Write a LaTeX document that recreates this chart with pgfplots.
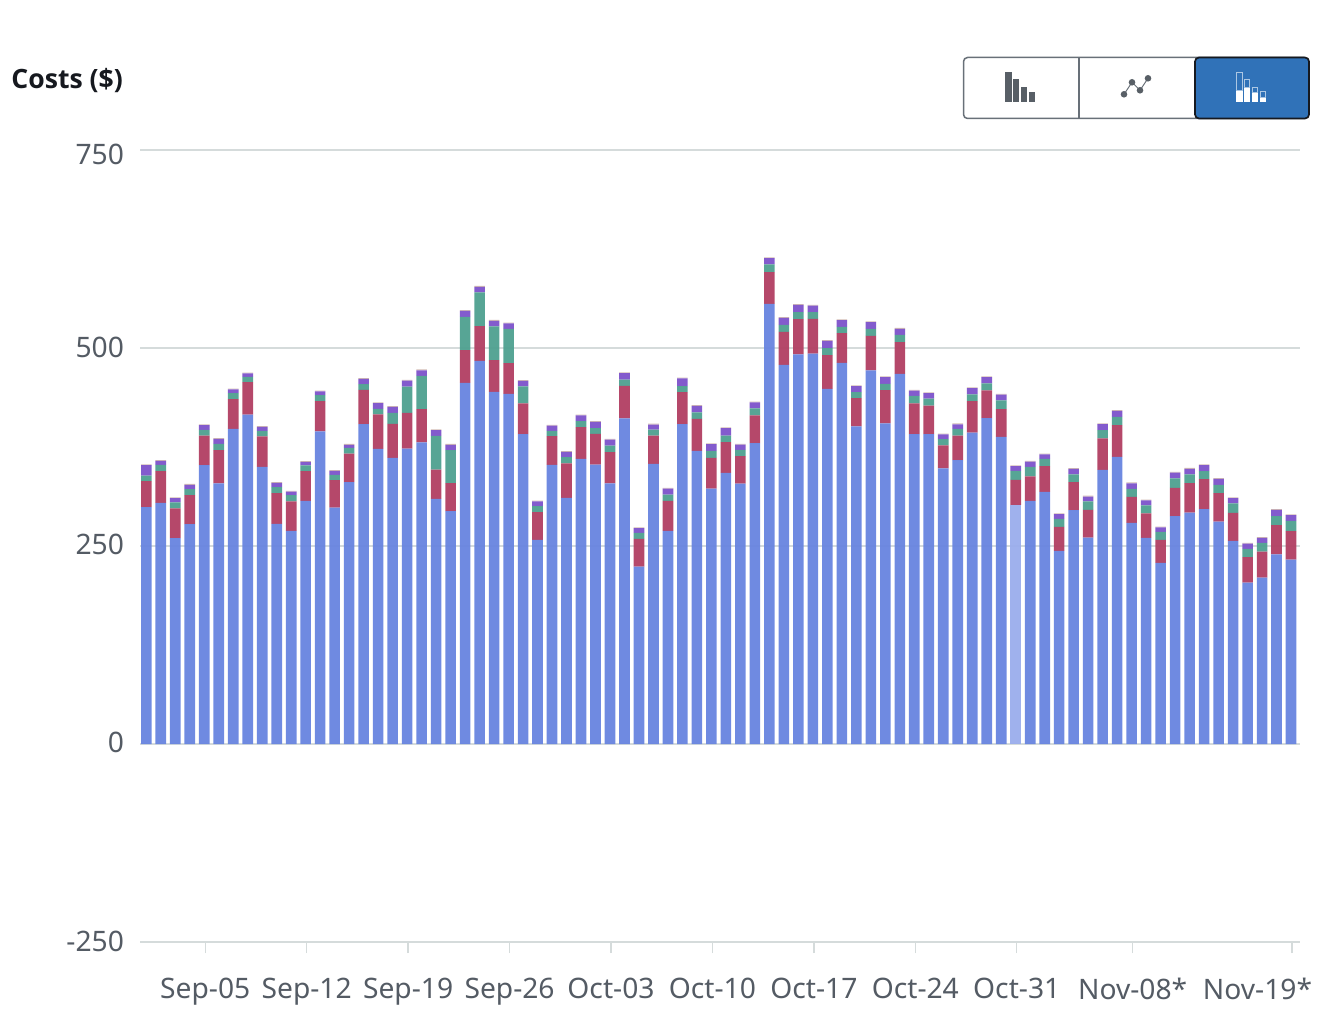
\documentclass[border=0pt]{standalone}
\usepackage{pgfplots}
\usepackage{pgfplotstable}
\pgfplotsset{compat=1.18}
\usepackage{fontspec}
\setmainfont{Noto Sans}
\newfontfamily\boldfont{Open Sans}[UprightFont=* Bold]
\definecolor{cblue}{HTML}{6985E0}
\definecolor{clight}{HTML}{9BAEEC}
\definecolor{cred}{HTML}{B24164}
\definecolor{cgreen}{HTML}{50A191}
\definecolor{cpurple}{HTML}{7E54CB}
\definecolor{ctan}{HTML}{D0B8B0}
\definecolor{cgrid}{HTML}{D5DBDB}
\definecolor{ctext}{HTML}{545B64}
\definecolor{cdark}{HTML}{16191F}
\definecolor{cbtn}{HTML}{3072B8}
\definecolor{cedge}{HTML}{687078}
\pgfplotstableread{
i b h r g p t
0 299 0 33 7 13 1
1 304.5 0 40 8 5 1
2 259.9 0 37.5 7.6 5.5 1
3 277.6 0 36.6 7.6 5.5 1
4 352 0 37.5 7.2 5.9 1
5 329 0 42 8 6.3 1
6 398 0 37.5 7.6 4.6 1
7 416 0 41 6.7 4.2 1
8 350 0 38.3 7.2 5 1
9 278 0 38.7 7.6 5.5 1
10 269 0 37.5 7.6 4.6 1
11 307 0 37.5 7.2 4.6 1
12 394.6 0 38.3 7.6 4.6 1
13 298.6 0 34.5 6.7 5 1
14 330.6 0 36.2 7.2 3.8 1
15 403.8 0 43.4 7.2 6.7 1
16 372.7 0 43.4 7.2 7.2 1
17 361.3 0 42.9 13.9 7.6 1
18 373 0 45 33.3 7.6 1
19 380.7 0 42 42 7.2 1
20 309.5 0 37 42.5 7.2 1
21 294 0 35.4 41.7 6.7 1
22 456 0 41.2 42 7.6 1
23 483.8 0 43.8 42.5 7.2 1
24 444.7 0 40 42.5 7.2 1
25 442 0 39 43 7.2 1
26 391.2 0 39 21.5 6.7 1
27 257.8 0 35 7.6 5.9 1
28 352.5 0 36.2 6.7 6.7 1
29 310.8 0 43.4 8 6.7 1
30 360 0 40 7.6 7.2 1
31 352.9 0 38.7 7.2 8 1
32 329 0 39.6 8 7.6 1
33 411 0 41.2 8 8 1
34 224 0 35 7.6 5.9 1
35 353.7 0 35.8 7.6 6.3 1
36 269 0 37.9 8 7.6 1
37 403.8 0 40.4 7.6 9.7 1
38 370 0 40.4 8.4 8 1
39 322.6 0 38.7 8.8 8.4 1
40 342.4 0 38.7 8.4 9.3 1
41 328.9 0 34.5 8 6.7 1
42 380 0 35 8.8 7.6 1
43 555.8 0 40 9.7 8 1
44 478.8 0 41.7 8.8 8.8 1
45 491.8 0 44.6 8.8 9.3 1
46 493 0 43.8 8.4 8.4 1
47 448.5 0 42.5 8.8 9.3 1
48 481.3 0 37.5 8 8.4 1
49 400.9 0 35.8 7.6 7.6 1
50 471.6 0 43.8 8.8 8.4 1
51 404.7 0 42 8 8.4 1
52 467.4 0 40 9.3 7.6 1
53 391.2 0 39 9.3 6.7 1
54 391.2 0 36.2 8.8 6.7 1
55 348 0 29 8 5.9 1
56 358.4 0 31 8.4 5.9 1
57 393.3 0 39.6 8.4 8 1
58 411.4 0 35 8.8 8 1
59 387.9 0 35 11 7.2 1
60 0 302 31.6 11.4 5.9 1
61 307 0 31 11.8 6.7 1
62 318.4 0 32.4 9.3 5.5 1
63 243.9 0 30.3 10 5.9 1
64 295.2 0 35.4 10 6.7 1
65 260.7 0 35 10.5 6.3 1
66 346.2 0 39.6 10.5 7.6 1
67 362.6 0 40 10.5 7.6 1
68 279.2 0 32.8 10 7.2 1
69 260.3 0 31 10 6.3 1
70 228.7 0 29 10 5.9 1
71 287.7 0 35.8 11.8 7.2 1
72 292.3 0 37 11 7.2 1
73 296.5 0 37.9 10 7.6 1
74 280.9 0 35.8 10.5 7.6 1
75 256.5 0 35.4 11.8 6.7 1
76 203.9 0 32 10.5 6.7 1
77 210.2 0 32.8 11 6.3 1
78 239.3 0 37 11.4 8 1
79 232.9 0 35.8 13 7.2 1
}\costdata
\begin{document}
\begin{tikzpicture}[x=1pt,y=1pt]
\useasboundingbox (0,0) rectangle (671,512);
\begin{axis}[
  at={(70pt,41pt)}, anchor=south west,
  scale only axis, width=580pt, height=396pt,
  xmin=-0.435, xmax=79.62, ymin=-250, ymax=750,
  ybar stacked, bar width=5.3pt,
  axis line style={draw=none},
  ymajorgrids, grid style={cgrid,line width=0.75pt},
  ytick={-250,0,250,500,750},
  yticklabels={\raisebox{-4.7pt}[0pt][0pt]{-250},\raisebox{-4.1pt}[0pt][0pt]{0},\raisebox{-4.4pt}[0pt][0pt]{250},\raisebox{-4.9pt}[0pt][0pt]{500},\raisebox{-7pt}[0pt][0pt]{750}},
  xtick={4.07,11.07,18.07,25.07,32.07,39.07,46.07,53.07,60.07,68.07,79.07},
  xticklabels={Sep-05,Sep-12,Sep-19,Sep-26,Oct-03,Oct-10,Oct-17,Oct-24,Oct-31,Nov-08*,{\makebox[0pt][r]{Nov-19*\hspace*{-10pt}}}},
  xtick pos=lower, ytick pos=left,
  major tick length=5.5pt,
  xtick align=outside,
  y tick style={draw=none},
  x tick style={cgrid,line width=0.75pt},
  tick label style={font=\fontsize{14.1}{16}\selectfont,text=ctext},
  y tick label style={xshift=-4.5pt},
  x tick label style={yshift=-9pt},
  every axis plot/.append style={draw=none,fill opacity=0.96},
  clip=false,
]
\addplot[fill=cblue] table[x=i,y=b]{\costdata};
\addplot[fill=clight] table[x=i,y=h]{\costdata};
\addplot[fill=cred] table[x=i,y=r]{\costdata};
\addplot[fill=cgreen] table[x=i,y=g]{\costdata};
\addplot[fill=cpurple] table[x=i,y=p]{\costdata};
\addplot[fill=ctan] table[x=i,y=t]{\costdata};
\draw[cgrid,line width=1.2pt] (axis cs:-0.435,0) -- (axis cs:79.62,0);
\end{axis}
\begin{scope}[shift={(0,512)},x=0.5pt,y=-0.5pt]
\node[anchor=west,font=\fontsize{13.3}{16}\selectfont\boldfont,text=cdark,inner sep=0pt] at (11,80.5) {Costs (\$)};
% segmented button
\draw[fill=white,draw=cedge,line width=0.75pt,rounded corners=2pt] (963.5,57.5) rectangle (1308,118.5);
\draw[cedge,line width=0.75pt] (1079,57.5) -- (1079,118.5);
\draw[fill=cbtn,draw=cdark,line width=0.85pt,rounded corners=2pt] (1195,57.5) rectangle (1309,118.5);
% bar icon
\fill[cedge!85!black] (1005,72) rectangle (1011.5,102.4);
\fill[cedge!85!black] (1012.7,79.3) rectangle (1019.3,102.4);
\fill[cedge!85!black] (1020.7,87.3) rectangle (1027.3,102.4);
\fill[cedge!85!black] (1028.7,91.7) rectangle (1035.3,102.4);
% line icon
\draw[cedge,line width=0.5pt] (1124,94.3) -- (1132,82.3) -- (1140,90.3) -- (1148,78.3);
\foreach \x/\y in {1124/94.3,1132/82.3,1140/90.3,1148/78.3}
  \fill[cedge!85!black] (\x,\y) circle (3.3);
% stacked icon
\foreach \a/\b/\c in {1236/72.3/90.7,1243.7/79.3/87.3,1251.7/87.3/92.7,1259.7/91.3/97.3}{
  \fill[white] (\a,\c) rectangle (\a+6.6,102.4);
  \draw[white!60!cbtn,line width=0.6pt] (\a+0.5,\b) rectangle (\a+6.1,\c);
}
\end{scope}
\end{tikzpicture}
\end{document}
